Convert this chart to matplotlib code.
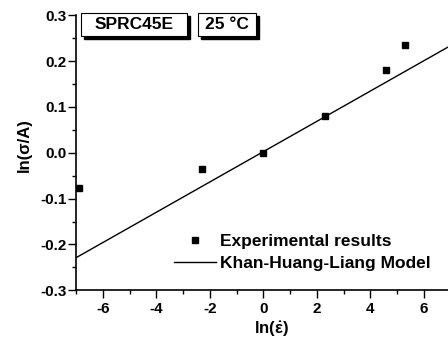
import matplotlib
matplotlib.use("Agg")
import matplotlib.pyplot as plt
from matplotlib.patches import Rectangle
from matplotlib.ticker import MultipleLocator, FormatStrFormatter

plt.rcParams['font.family'] = ['Liberation Sans', 'DejaVu Sans']
plt.rcParams['font.weight'] = 'bold'
plt.rcParams['axes.unicode_minus'] = False
plt.rcParams['mathtext.fontset'] = 'custom'
plt.rcParams['mathtext.rm'] = 'Liberation Sans'
plt.rcParams['mathtext.it'] = 'Liberation Sans:italic'

# measured points, ln(strain rate) vs ln(sigma/A)
ln_rate = [-6.9, -2.3, 0.0, 2.3, 4.6, 5.3]
ln_stress = [-0.077, -0.035, 0.0, 0.081, 0.181, 0.235]

# Khan-Huang-Liang fit, end points over the plotted range
model_x = [-7.0, 7.0]
model_y = [-0.229, 0.234]

W, H = 448, 342
fig = plt.figure(figsize=(W / 100, H / 100), dpi=100)
ax = fig.add_axes([76 / W, 51.7 / H, 374.7 / W, 275 / H])

ax.plot(ln_rate, ln_stress, 's', color='black', ms=5, label='Experimental results')
ax.plot(model_x, model_y, '-', color='black', lw=1.0, label='Khan-Huang-Liang Model')

ax.set_xlim(-7, 7)
ax.set_ylim(-0.3, 0.3)
ax.xaxis.set_major_locator(MultipleLocator(2))
ax.xaxis.set_minor_locator(MultipleLocator(1))
ax.yaxis.set_major_locator(MultipleLocator(0.1))
ax.yaxis.set_minor_locator(MultipleLocator(0.05))
ax.yaxis.set_major_formatter(FormatStrFormatter('%.1f'))

ax.spines['top'].set_visible(False)
ax.spines['right'].set_visible(False)
for s in ('left', 'bottom'):
    ax.spines[s].set_linewidth(1.2)
ax.tick_params(which='major', direction='out', length=5.5, width=1.0, labelsize=11)
ax.tick_params(which='minor', direction='out', length=3, width=1.0)
ax.tick_params(axis='y', which='major', pad=1.5)
ax.tick_params(axis='x', which='major', pad=3)

ax.set_xlabel(r'ln($\mathrm{\dot{\varepsilon}}$)', fontsize=12, fontweight='bold', va='top')
ax.set_ylabel('ln(\u03c3/A)', fontsize=12, fontweight='bold')
ax.xaxis.set_label_coords(0.522, -0.105)
ax.yaxis.set_label_coords(-0.117, 0.528)

ax.legend(loc='upper left', bbox_to_anchor=(0.2615, 0.205), frameon=False,
          borderpad=0, borderaxespad=0, handlelength=2.4,
          handletextpad=0.25, labelspacing=0.37, prop={'weight': 'bold', 'size': 12.5})

# boxed labels with a drop shadow at the top of the plot
def shadow_box(x0, y0, x1, y1, text):
    tr = fig.transFigure
    fig.patches.append(Rectangle((x0 / W + 3 / W, 1 - y1 / H - 3 / H), (x1 - x0) / W, (y1 - y0) / H,
                                 transform=tr, facecolor='black', edgecolor='black', zorder=5))
    fig.patches.append(Rectangle((x0 / W, 1 - y1 / H), (x1 - x0) / W, (y1 - y0) / H,
                                 transform=tr, facecolor='white', edgecolor='black', lw=0.8, zorder=6))
    fig.text((x0 + x1) / 2 / W, 1 - (y0 + y1) / 2 / H, text, ha='center', va='center',
             fontsize=12.5, fontweight='bold', zorder=7)

shadow_box(81, 13, 187, 36, 'SPRC45E')
shadow_box(198, 13, 256, 36, '25 \u00b0C')

fig.savefig('out.png', dpi=100)
